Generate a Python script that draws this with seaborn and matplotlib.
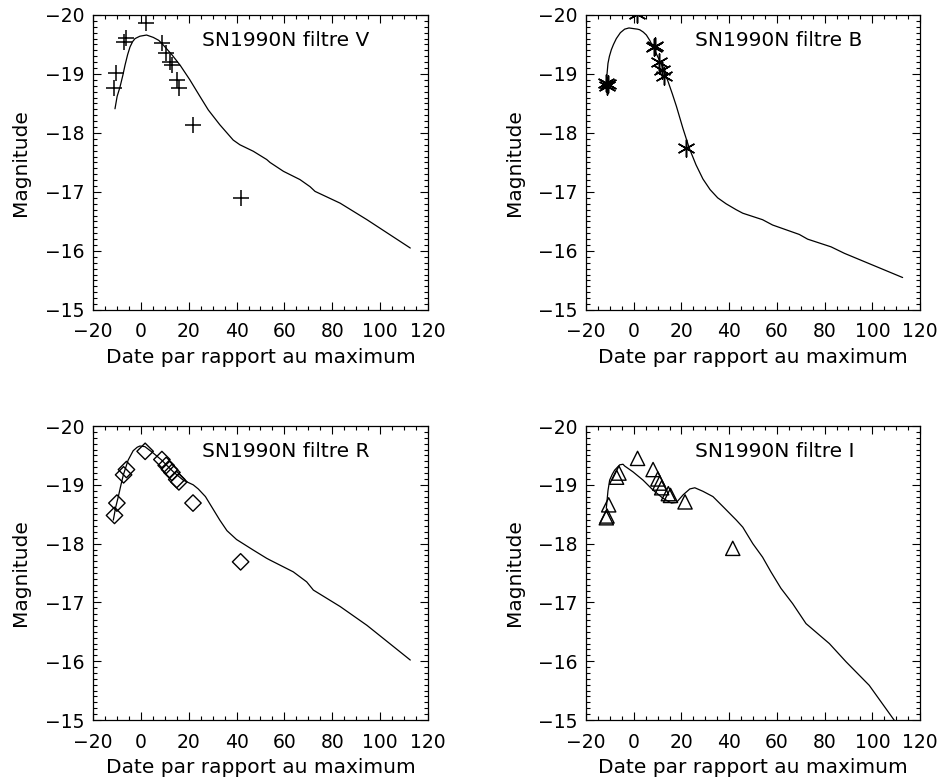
import matplotlib
matplotlib.use("Agg")
import matplotlib.pyplot as plt
import seaborn as sns
from matplotlib.ticker import MultipleLocator

# observations (days from maximum, absolute magnitude)
v_obs_x = [-11.0, -10.3, -7.2, -6.0, 2.0, 8.8, 10.6, 12.2, 12.9, 15.1, 16.1, 21.9, 41.8]
v_obs_y = [-18.76, -19.02, -19.54, -19.61, -19.86, -19.52, -19.36, -19.21, -19.16, -18.89, -18.76, -18.13, -16.90]

b_obs_x = [-11.6, -11.3, -11.0, 1.5, 8.5, 9.0, 10.7, 11.9, 12.8, 21.7]
b_obs_y = [-18.84, -18.80, -18.83, -20.02, -19.46, -19.48, -19.20, -19.07, -18.96, -17.74]

r_obs_x = [-11.0, -10.0, -7.2, -6.0, 1.8, 8.8, 10.6, 12.0, 13.0, 15.0, 15.9, 21.8, 41.7]
r_obs_y = [-18.48, -18.69, -19.17, -19.26, -19.57, -19.43, -19.33, -19.26, -19.21, -19.09, -19.05, -18.69, -17.69]

i_obs_x = [-11.5, -11.2, -10.5, -7.2, -6.2, 1.6, 8.1, 10.1, 10.9, 11.7, 14.5, 15.4, 21.5, 41.5]
i_obs_y = [-18.44, -18.47, -18.66, -19.13, -19.20, -19.45, -19.26, -19.10, -19.03, -18.95, -18.85, -18.82, -18.71, -17.92]

# model light curves
v_mod_x = [-10.8, -9.9, -8.7, -7.5, -6.6, -5.5, -4.5, -3.4, -2.4, -0.4, 2.4, 5.2, 7.5, 9.4, 12.9,
           16.4, 20.5, 24.7, 28.2, 33.0, 38.6, 41.4, 47.0, 52.6, 54.0, 59.6, 66.5, 70.7, 72.8,
           83.3, 94.5, 112.6]
v_mod_y = [-18.41, -18.62, -18.78, -18.98, -19.15, -19.33, -19.46, -19.55, -19.60, -19.64, -19.66,
           -19.62, -19.57, -19.49, -19.33, -19.15, -18.90, -18.62, -18.39, -18.14, -17.88, -17.80,
           -17.69, -17.55, -17.50, -17.35, -17.21, -17.09, -17.01, -16.81, -16.53, -16.05]

b_mod_x = [-11.6, -11.2, -10.8, -10.2, -9.4, -8.5, -7.3, -5.6, -3.8, -2.0, -0.3, 1.5, 2.5, 4.0,
           5.3, 6.7, 8.1, 10.2, 12.3, 14.4, 16.2, 17.9, 20.6, 23.3, 26.1, 29.0, 32.0, 35.2, 38.7,
           42.9, 45.7, 54.0, 58.2, 69.4, 72.9, 82.7, 88.3, 112.7]
b_mod_y = [-18.81, -19.00, -19.18, -19.30, -19.41, -19.50, -19.60, -19.70, -19.76, -19.78, -19.77,
           -19.76, -19.75, -19.71, -19.66, -19.57, -19.46, -19.28, -19.10, -18.87, -18.66, -18.45,
           -18.08, -17.74, -17.46, -17.22, -17.04, -16.90, -16.80, -16.70, -16.64, -16.53, -16.44,
           -16.28, -16.20, -16.07, -15.96, -15.55]

r_mod_x = [-11.5, -10.5, -9.4, -8.3, -7.3, -5.3, -3.2, -1.5, -0.4, 1.7, 5.2, 8.7, 13.6, 17.7,
           21.9, 24.0, 27.0, 30.0, 33.0, 36.0, 40.0, 47.0, 52.6, 54.0, 63.7, 69.3, 72.1, 83.3,
           94.5, 112.6]
r_mod_y = [-18.40, -18.62, -18.80, -19.00, -19.17, -19.42, -19.58, -19.64, -19.66, -19.65, -19.54,
           -19.42, -19.22, -19.08, -19.00, -18.93, -18.80, -18.60, -18.40, -18.22, -18.07, -17.89,
           -17.75, -17.72, -17.52, -17.35, -17.21, -16.93, -16.61, -16.02]

i_mod_x = [-11.5, -10.8, -10.1, -9.0, -8.0, -5.9, -4.5, -3.8, -0.3, 3.9, 8.1, 12.3, 15.8, 17.9,
           20.7, 23.5, 25.6, 29.0, 33.2, 37.4, 43.0, 45.7, 49.9, 54.0, 57.5, 61.7, 66.6, 72.2,
           82.0, 89.0, 98.7, 110.0]
i_mod_y = [-18.60, -18.90, -19.08, -19.18, -19.25, -19.34, -19.35, -19.32, -19.22, -19.08, -18.91,
           -18.77, -18.69, -18.70, -18.83, -18.93, -18.95, -18.89, -18.80, -18.63, -18.40, -18.28,
           -18.00, -17.77, -17.52, -17.24, -16.98, -16.64, -16.30, -15.99, -15.59, -14.95]

sns.set_theme(style="ticks")
plt.rcParams["font.family"] = ["DejaVu Sans"]

fig = plt.figure(figsize=(9.39, 7.80), dpi=100)

# panel boxes in figure fraction: left, bottom, width, height
boxes = {
    "V": [0.099, 0.6026, 0.3568, 0.3782],
    "B": [0.6241, 0.6026, 0.3557, 0.3782],
    "R": [0.099, 0.0769, 0.3568, 0.3769],
    "I": [0.6241, 0.0769, 0.3557, 0.3769],
}


def panel(name, ox, oy, mx, my, marker, size, hollow):
    ax = fig.add_axes(boxes[name])
    sns.lineplot(x=mx, y=my, ax=ax, color="black", linewidth=0.9, sort=False, estimator=None)
    if hollow:
        sns.scatterplot(x=ox, y=oy, ax=ax, marker=marker, s=size, fc="none", ec="black",
                        linewidth=1.0, zorder=3)
    else:
        sns.scatterplot(x=ox, y=oy, ax=ax, marker=marker, s=size, color="black",
                        linewidth=1.1, zorder=3)
    ax.set_xlim(-20, 120)
    ax.set_ylim(-15, -20)
    ax.xaxis.set_major_locator(MultipleLocator(20))
    ax.xaxis.set_minor_locator(MultipleLocator(5))
    ax.yaxis.set_major_locator(MultipleLocator(1))
    ax.yaxis.set_minor_locator(MultipleLocator(0.1))
    ax.tick_params(which="both", direction="in", top=True, right=True, color="black",
                   width=0.8, labelsize=13.5, labelcolor="black")
    ax.tick_params(which="major", length=6)
    ax.tick_params(which="minor", length=3)
    ax.tick_params(axis="x", pad=9)
    ax.tick_params(axis="y", pad=6)
    for sp in ax.spines.values():
        sp.set_linewidth(0.9)
        sp.set_color("black")
    ax.set_xlabel("Date par rapport au maximum", fontsize=14.5, color="black")
    ax.set_ylabel("Magnitude", fontsize=14.5, color="black")
    ax.xaxis.set_label_coords(0.5, -0.16)
    ax.xaxis.label.set_va("center")
    ax.yaxis.set_label_coords(-0.215, 0.5)
    ax.yaxis.label.set_va("center")
    ax.text(0.325, 0.915, f"SN1990N filtre {name}", transform=ax.transAxes,
            fontsize=14.5, ha="left", va="center", color="black")
    ax.set_facecolor("white")
    return ax


panel("V", v_obs_x, v_obs_y, v_mod_x, v_mod_y, "+", 140, False)
panel("B", b_obs_x, b_obs_y, b_mod_x, b_mod_y, (6, 2, 0), 150, False)
panel("R", r_obs_x, r_obs_y, r_mod_x, r_mod_y, "D", 70, True)
panel("I", i_obs_x, i_obs_y, i_mod_x, i_mod_y, "^", 105, True)

fig.savefig("out.png", dpi=100, facecolor="white")
